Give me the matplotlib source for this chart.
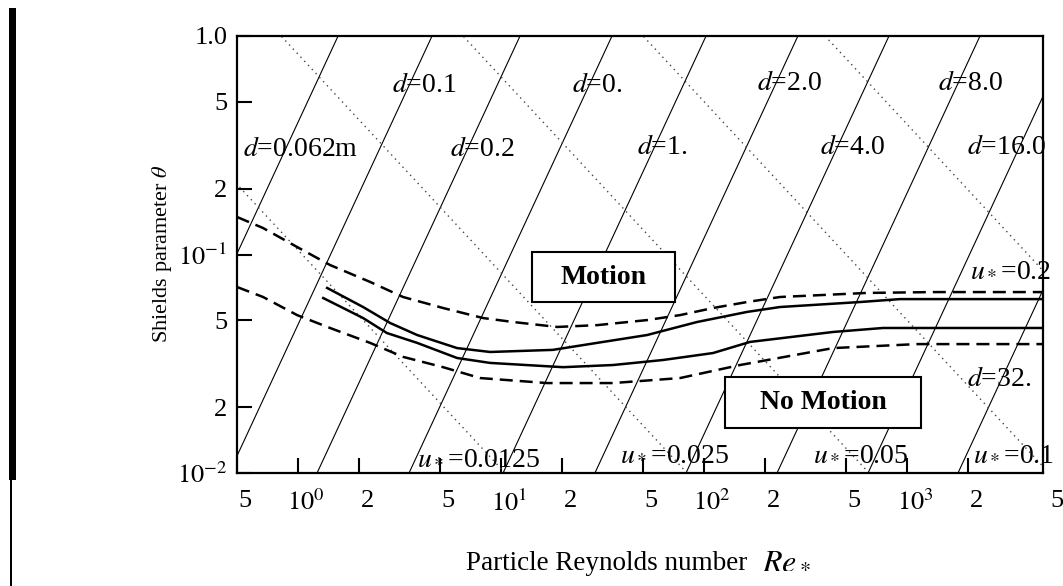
import numpy as np
import matplotlib
matplotlib.use('Agg')
import matplotlib.pyplot as plt
from matplotlib.patches import Rectangle
import matplotlib.transforms as mtransforms

plt.rcParams['font.family'] = ['Liberation Serif', 'DejaVu Serif']
plt.rcParams['mathtext.fontset'] = 'stix'

# ---------------- data ----------------
re_upper_dashed = [0.5, 0.672, 0.989, 1.437, 2.263, 3.29, 5.18, 8.15, 11.46, 18.9, 29.7,
                   52.4, 76.2, 110.7, 162.9, 236.8, 635, 1343, 4677]
theta_upper_dashed = [0.1485, 0.1322, 0.1082, 0.0895, 0.0749, 0.0639, 0.0569, 0.0512, 0.0491,
                      0.0466, 0.0475, 0.0501, 0.0528, 0.0569, 0.0606, 0.0639, 0.0667, 0.0673, 0.0673]

re_upper_solid = [1.39, 2.09, 2.84, 3.86, 6.07, 8.83, 18.0, 29.7, 52.4, 92.4, 162.9, 236.8,
                  587, 924, 4677]
theta_upper_solid = [0.0703, 0.0575, 0.0486, 0.0428, 0.0373, 0.0358, 0.0366, 0.0394, 0.0428,
                     0.0491, 0.0546, 0.0575, 0.0606, 0.0625, 0.0625]

re_lower_solid = [1.33, 2.09, 2.74, 3.86, 6.07, 8.83, 20.2, 35.6, 62.8, 110.7, 168.5, 432,
                  762, 4677]
theta_lower_solid = [0.0632, 0.0512, 0.0437, 0.0394, 0.0336, 0.0319, 0.0305, 0.0312, 0.0329,
                     0.0354, 0.0398, 0.0442, 0.0461, 0.0461]

re_lower_dashed = [0.5, 0.672, 0.989, 1.437, 2.263, 3.29, 5.18, 7.88, 16.85, 35.6, 76.2,
                   150.4, 432, 1120, 4677]
theta_lower_dashed = [0.0710, 0.0639, 0.0528, 0.0461, 0.0394, 0.0340, 0.0305, 0.0272, 0.0258,
                      0.0258, 0.0272, 0.0312, 0.0373, 0.0389, 0.0389]

# constant grain-size lines (slope 2): Re* where each line meets theta = 1
d_labels = ['0.062m', '0.1', '0.2', '0.', '1.', '2.0', '4.0', '8.0', '16.0', '32.']
d_line_re_at_theta1 = [1.574, 4.57, 12.4, 35.2, 102.3, 290, 815, 2289, 6427, 17830]

# constant shear-velocity lines (slope -1): Re* where each line meets theta = 1
ustar_labels = ['0.0125', '0.025', '0.05', '0.1', '0.2']
ustar_line_re_at_theta1 = [0.1047, 0.825, 6.50, 50.1, 394.7]

xtick_values = [0.5, 1, 2, 5, 10, 20, 50, 100, 200, 500, 1000, 2000]
xtick_labels = ['5', r'$10^0$', '2', '5', r'$10^1$', '2', '5', r'$10^2$', '2', '5', r'$10^3$', '2']
extra_xtick_value = 5000
extra_xtick_label = '5'
ytick_values = [0.01, 0.02, 0.05, 0.1, 0.2, 0.5, 1.0]
ytick_labels = [r'$10^{-2}$', '2', '5', r'$10^{-1}$', '2', '5', '1.0']

# ---------------- figure ----------------
W, H = 1063, 586
fig = plt.figure(figsize=(W / 100, H / 100), dpi=100)
L, R, T, B = 237, 1043, 36, 473
ax = fig.add_axes([L / W, 1 - B / H, (R - L) / W, (B - T) / H])
ax.set_xscale('log')
ax.set_yscale('log')
ax.set_xlim(0.5, 4677)
ax.set_ylim(0.01, 1.0)

theta_span = np.array([0.01, 1.0])
for re1 in d_line_re_at_theta1:
    ax.plot(re1 * np.sqrt(theta_span), theta_span, color='black', lw=0.8, zorder=2)
for c in ustar_line_re_at_theta1:
    ax.plot(c / theta_span, theta_span, color='#444444', lw=1.0,
            linestyle=(0, (1, 3)), zorder=2)

dash = (0, (5.2, 2.8))
ax.plot(re_upper_dashed, theta_upper_dashed, color='black', lw=1.8, linestyle=dash, zorder=3)
ax.plot(re_lower_dashed, theta_lower_dashed, color='black', lw=1.8, linestyle=dash, zorder=3)
ax.plot(re_upper_solid, theta_upper_solid, color='black', lw=1.8, zorder=3)
ax.plot(re_lower_solid, theta_lower_solid, color='black', lw=1.8, zorder=3)


def fx(px):
    return (px - L) / (R - L)


def fy(py):
    return (B - py) / (B - T)


# d labels (left x, center y in pixels)
d_pos = [(243, 150), (392, 85), (450, 150), (572, 85), (637, 148), (757, 83),
         (820, 148), (938, 83), (967, 148), (967, 380)]
for lab, (px, py) in zip(d_labels, d_pos):
    ax.text(fx(px), fy(py), r'$d$=' + lab, transform=ax.transAxes, fontsize=20,
            ha='left', va='center', zorder=4, clip_on=False)

u_pos = [(417, 458), (620, 453), (813, 453), (973, 453), (970, 270)]
for lab, (px, py) in zip(ustar_labels, u_pos):
    ax.text(fx(px), fy(py), r'$u_*$=' + lab, transform=ax.transAxes, fontsize=20,
            ha='left', va='center', zorder=4, clip_on=False)

# boxes
for (x0, y0, x1, y1, txt) in [(532, 252, 675, 302, 'Motion'), (725, 377, 921, 428, 'No Motion')]:
    ax.add_patch(Rectangle((fx(x0), fy(y1)), fx(x1) - fx(x0), fy(y0) - fy(y1),
                           transform=ax.transAxes, facecolor='white', edgecolor='black',
                           lw=1.5, zorder=5))
    ax.text((fx(x0) + fx(x1)) / 2, (fy(y0) + fy(y1)) / 2, txt, transform=ax.transAxes,
            fontsize=20, fontweight='bold', ha='center', va='center', zorder=6)

# ticks
ax.set_xticks(xtick_values)
ax.set_xticklabels(xtick_labels)
ax.set_yticks(ytick_values)
ax.set_yticklabels(ytick_labels)
ax.minorticks_off()
ax.tick_params(axis='both', direction='in', length=11, width=1.5, labelsize=19,
               top=False, right=False)
ax.tick_params(axis='x', pad=12)
ax.tick_params(axis='y', pad=7)
offset = mtransforms.ScaledTranslation(8 / 100, 0, fig.dpi_scale_trans)
for lab in ax.get_xticklabels():
    lab.set_transform(lab.get_transform() + offset)
extra_tr = ax.get_xaxis_transform() + mtransforms.ScaledTranslation(
    8 / 100, -12 / 72, fig.dpi_scale_trans)
ax.text(extra_xtick_value, 0, extra_xtick_label, fontsize=19, ha='center', va='top',
        transform=extra_tr, clip_on=False)

for s in ax.spines.values():
    s.set_linewidth(1.6)

# axis labels
fig.text(162 / W, 1 - 254 / H, r'Shields parameter $\theta$', rotation=90,
         ha='center', va='center', fontsize=16)
fig.text(466 / W, 1 - 564 / H, 'Particle Reynolds number', ha='left', va='center', fontsize=19.5)
fig.text(762 / W, 1 - 561 / H, r'$Re_*$', ha='left', va='center', fontsize=23)

# scan edge bar
fig.add_artist(Rectangle((9 / W, 1 - 480 / H), 7 / W, 472 / H, transform=fig.transFigure,
                         facecolor='black', edgecolor='none'))
fig.add_artist(Rectangle((10 / W, 0), 2.5 / W, 106 / H, transform=fig.transFigure,
                         facecolor='black', edgecolor='none'))

fig.savefig('out.png', dpi=100)
